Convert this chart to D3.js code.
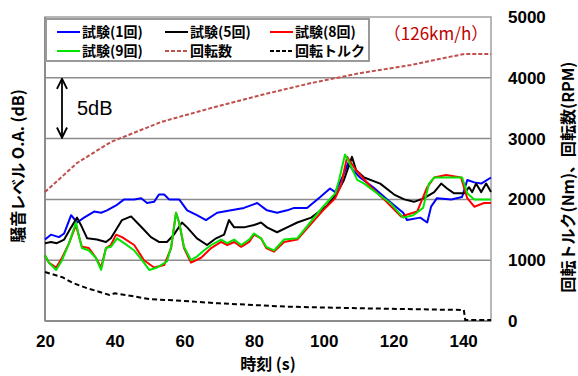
<!DOCTYPE html>
<html><head><meta charset="utf-8">
<script src="https://cdn.jsdelivr.net/npm/d3@7"></script>
<style>
body{margin:0;background:#fff;}
text{font-family:"Liberation Sans",Arial,sans-serif;}
.jp{font-family:"Noto Sans CJK JP","Liberation Sans",sans-serif;}
</style></head>
<body><svg id="c" width="578" height="376"></svg>
<script>
// ---- data ----
const xTicks = [20,40,60,80,100,120,140];
const rightTicks = [0,1000,2000,3000,4000,5000];
const gridDB = [65,70,75,80];
const legendLabels = ["試験(1回)","試験(5回)","試験(8回)","試験(9回)","回転数","回転トルク"];

// [time s, noise dB]
const test1 = [[20,66.7],[21.7,67.1],[24,66.9],[25.5,67.2],[27.5,68.7],[29.2,68.1],[31.2,68.5],[34.1,69.0],[36.1,68.9],[37.8,69.1],[40.4,69.5],[42.7,70.0],[45.6,70.0],[47.6,70.1],[49.3,69.7],[51.3,69.8],[52.7,70.4],[54.2,70.4],[55.6,70.0],[58.5,70.0],[60.8,69.1],[63.6,68.7],[66.2,68.3],[69.4,68.9],[73.4,69.1],[77.1,69.3],[80.9,69.7],[83.7,69.1],[86.6,68.9],[89.5,69.1],[91.5,69.3],[95.2,69.3],[99.0,70.2],[101.8,70.9],[103.3,70.6],[105.3,71.8],[107.0,73.0],[108.4,72.4],[110.4,71.8],[114.2,71.0],[118.2,70.0],[122.8,68.9],[123.9,68.3],[127.7,68.5],[129.7,68.1],[130.8,69.4],[132.5,70.1],[136.6,70.0],[139.7,70.2],[141.2,71.6],[143.2,71.4],[145.2,71.3],[148,71.8]];
const test5 = [[20,66.4],[21.7,66.5],[23.4,66.4],[25.5,66.7],[27.5,67.7],[29.2,68.5],[30.3,67.9],[32.1,66.8],[34.9,66.7],[37.5,66.5],[38.9,66.8],[40.4,67.5],[42.1,68.3],[44.7,68.6],[46.4,68.1],[48.4,67.5],[50.4,66.9],[52.7,66.5],[55.0,66.5],[57.0,67.1],[59.3,68.1],[60.8,67.7],[63.6,66.8],[66.5,66.25],[69.1,66.8],[71.4,67.1],[72.8,68.3],[74.3,67.7],[77.1,67.7],[80.0,67.9],[82.0,68.1],[83.7,67.7],[86.6,67.3],[89.5,67.7],[92.4,68.1],[96.4,68.5],[101.0,69.5],[103.8,70.5],[105.8,71.6],[108.1,73.5],[109.3,72.4],[111.6,71.8],[116.2,71.3],[120.2,70.4],[123.1,70.0],[125.9,69.8],[128.8,70.1],[131.7,70.6],[133.7,71.3],[135.4,70.9],[137.4,70.5],[140.3,70.5],[141.7,71.0],[142.6,70.6],[143.7,71.3],[145.2,70.6],[146.6,71.3],[148,70.6]];
const test8 = [[20,65.4],[21.1,64.8],[23.2,64.4],[24.9,65.2],[26.9,66.4],[28.9,67.9],[29.8,66.9],[30.6,66.1],[32.6,66.0],[34.6,65.2],[36.1,64.4],[37.5,66.0],[38.9,66.25],[40.4,67.1],[42.1,66.9],[45.6,66.25],[48.4,65.0],[51.3,64.4],[54.2,64.6],[56.2,66.0],[57.6,68.9],[58.5,68.1],[59.9,66.0],[61.9,64.8],[64.8,65.2],[67.7,66.0],[70.5,66.5],[72.3,66.25],[74.3,66.5],[76.3,66.1],[78.6,66.5],[80.0,67.1],[82.0,66.8],[83.5,66.0],[85.7,65.7],[88.6,66.5],[92.4,66.7],[96.1,67.9],[99.8,69.1],[103.3,70.1],[105.0,71.2],[106.7,73.5],[107.6,73.1],[109.3,72.4],[113.6,71.0],[117.3,70.0],[122.2,68.6],[126.8,69.0],[129.7,71.0],[131.7,71.8],[135.1,72.0],[139.4,71.8],[141.2,70.1],[143.2,69.4],[146.0,69.7],[148,69.7]];
const test9 = [[20,65.4],[21.1,64.8],[23.2,64.2],[24.9,65.0],[26.9,66.4],[28.9,68.1],[29.8,66.9],[30.6,66.0],[32.6,65.8],[34.6,65.2],[36.1,64.2],[37.5,66.0],[38.9,66.1],[40.7,66.8],[42.7,66.4],[45.6,65.8],[48.4,64.8],[49.9,64.2],[52.2,64.4],[55.0,64.9],[56.2,66.1],[57.6,68.9],[58.5,68.1],[59.9,66.1],[61.9,65.0],[63.6,65.3],[65.6,65.8],[67.7,66.25],[70.5,66.7],[72.3,66.4],[74.3,66.7],[76.3,66.25],[78.6,66.7],[80.0,67.2],[82.0,66.8],[83.5,66.1],[85.7,65.8],[88.6,66.7],[92.4,66.8],[96.1,68.1],[99.8,69.4],[103.3,70.5],[104.4,71.6],[106.1,73.7],[107.0,73.2],[109.6,71.6],[111.6,71.3],[115.3,70.5],[119.1,69.7],[122.8,68.5],[125.7,68.7],[128.5,69.3],[130.2,71.3],[131.7,71.8],[134.6,71.8],[137.4,71.8],[139.7,71.8],[141.2,70.5],[143.2,70.0],[145.8,70.0],[148,70.0]];
// [time s, RPM]
const rpm = [[20,2122],[29.2,2599],[38.9,2944],[53.3,3273],[67.7,3503],[82,3717],[96.4,3914],[110.7,4079],[125.1,4211],[134.6,4326],[140.3,4391],[148,4391]];
// [time s, Nm]
const torque = [[20,806],[25,720],[28,625],[32,540],[35,490],[38.5,428],[40,455],[45,410],[50,360],[57,340],[70,290],[90,235],[110,210],[130,190],[140.2,181],[140.6,18],[148,18]];

// ---- chart ----
const svg = d3.select("#c");
const L=45,R=491,T=17,B=321;
const x = d3.scaleLinear([20,148],[L,R]);
const yR = d3.scaleLinear([0,5000],[B,T]);
const yL = d3.scaleLinear([60,85],[B,T]);

// grid
svg.append("g").selectAll("line").data(gridDB).join("line")
  .attr("x1",L).attr("x2",R).attr("y1",d=>yL(d)).attr("y2",d=>yL(d))
  .attr("stroke","#8c8c8c").attr("stroke-width",1.5);
// frame
svg.append("rect").attr("x",L).attr("y",T).attr("width",R-L).attr("height",B-T)
  .attr("fill","none").attr("stroke","#a0a0a0").attr("stroke-width",1.5);
svg.append("line").attr("x1",L).attr("x2",L).attr("y1",T).attr("y2",B).attr("stroke","#8c8c8c").attr("stroke-width",2);
svg.append("line").attr("x1",L).attr("x2",R).attr("y1",B).attr("y2",B).attr("stroke","#8c8c8c").attr("stroke-width",2);

const lineR = d3.line().x(d=>x(d[0])).y(d=>yR(d[1]));
const lineL = d3.line().x(d=>x(d[0])).y(d=>yL(d[1]));

svg.append("path").datum(rpm).attr("d",lineR).attr("fill","none")
  .attr("stroke","#c0504d").attr("stroke-width",2).attr("stroke-dasharray","4,2");
svg.append("path").datum(torque).attr("d",lineR).attr("fill","none")
  .attr("stroke","#000").attr("stroke-width",2).attr("stroke-dasharray","5,3");

const series=[[test1,"#0000ff"],[test5,"#000000"],[test8,"#ff0000"],[test9,"#00e600"]];
series.forEach(([d,c])=>{
  svg.append("path").datum(d).attr("d",lineL).attr("fill","none")
   .attr("stroke",c).attr("stroke-width",2).attr("stroke-linejoin","round");
});

// axes
const xa = svg.append("g").attr("transform",`translate(0,${B})`)
  .call(d3.axisBottom(x).tickValues(xTicks).tickSize(0).tickPadding(14));
xa.select(".domain").remove();
xa.selectAll("text").attr("font-size",17).attr("font-weight","bold").attr("fill","#000")
  .attr("font-family","Liberation Sans, Arial, sans-serif");
const ra = svg.append("g").attr("transform",`translate(${R},0)`)
  .call(d3.axisRight(yR).tickValues(rightTicks).tickFormat(d3.format("d")).tickSize(0).tickPadding(17));
ra.select(".domain").remove();
ra.selectAll("text").attr("font-size",17).attr("font-weight","bold").attr("fill","#000")
  .attr("font-family","Liberation Sans, Arial, sans-serif");

// titles
svg.append("text").attr("class","jp").attr("x",268).attr("y",370).attr("text-anchor","middle")
  .attr("font-size",16).attr("font-weight","bold").text("時刻 (s)");
svg.append("text").attr("class","jp").attr("transform","translate(24,166) rotate(-90)")
  .attr("text-anchor","middle").attr("font-size",16).attr("font-weight","bold").text("騒音レベル O.A. (dB)");
svg.append("text").attr("class","jp").attr("transform","translate(574,177) rotate(-90)")
  .attr("text-anchor","middle").attr("font-size",16).attr("font-weight","bold").text("回転トルク(Nm)、回転数(RPM)");

// 5dB arrow
svg.append("defs").html('<marker id="ah" viewBox="0 0 10 10" refX="9" refY="5" markerWidth="7" markerHeight="7" orient="auto-start-reverse"><path d="M1,1 L9,5 L1,9" fill="none" stroke="#000" stroke-width="1.5"/></marker>');
svg.append("line").attr("x1",62).attr("x2",62).attr("y1",yL(80)+1).attr("y2",yL(75)-1)
  .attr("stroke","#000").attr("stroke-width",1.8).attr("marker-start","url(#ah)").attr("marker-end","url(#ah)");
svg.append("text").attr("x",77).attr("y",115).attr("font-size",20).text("5dB");

// speed label
svg.append("text").attr("class","jp").attr("x",436).attr("y",40).attr("text-anchor","middle")
  .attr("font-size",17).attr("fill","#c00000").text("（126km/h）");

// legend
svg.append("rect").attr("x",46).attr("y",19).attr("width",323).attr("height",42)
  .attr("fill","#fff").attr("stroke","#999").attr("stroke-width",2);
const leg=[
 {c:"#0000ff",dash:null,x:57,y:32,t:legendLabels[0]},
 {c:"#000000",dash:null,x:165,y:32,t:legendLabels[1]},
 {c:"#ff0000",dash:null,x:270,y:32,t:legendLabels[2]},
 {c:"#00e600",dash:null,x:57,y:51,t:legendLabels[3]},
 {c:"#c0504d",dash:"4,2",x:165,y:51,t:legendLabels[4]},
 {c:"#000000",dash:"4,2",x:270,y:51,t:legendLabels[5]}];
leg.forEach(l=>{
  svg.append("line").attr("x1",l.x).attr("x2",l.x+23).attr("y1",l.y).attr("y2",l.y)
    .attr("stroke",l.c).attr("stroke-width",2).attr("stroke-dasharray",l.dash);
  svg.append("text").attr("class","jp").attr("x",l.x+25).attr("y",l.y+5)
    .attr("font-size",14).attr("font-weight","bold").text(l.t);
});
</script></body></html>
